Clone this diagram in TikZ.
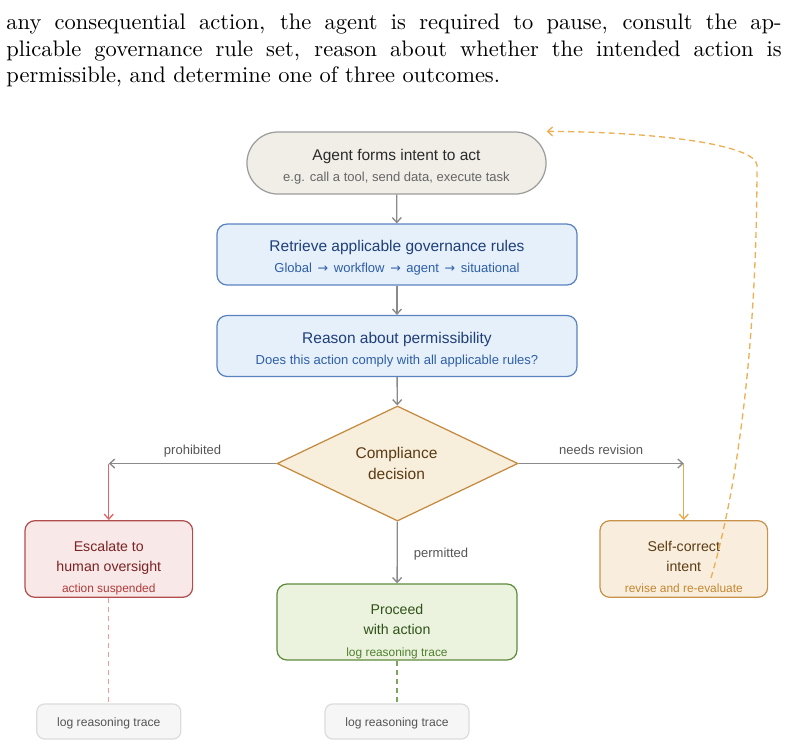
\documentclass[tikz,border=0pt]{standalone}
\usepackage{fontspec}
\usetikzlibrary{shapes.geometric,arrows.meta}
\newfontfamily\diafont{Liberation Sans}
\newfontfamily\arrowfont{DejaVu Sans}
\definecolor{flowgrey}{HTML}{8A8A8A}
\definecolor{labelgrey}{HTML}{555555}
\definecolor{startfill}{HTML}{F1EEE8}
\definecolor{startline}{HTML}{9C9C9C}
\definecolor{startink}{HTML}{2B2B2B}
\definecolor{startsub}{HTML}{666666}
\definecolor{bluefill}{HTML}{E6F0FA}
\definecolor{blueline}{HTML}{5A82C0}
\definecolor{blueink}{HTML}{1F3F7A}
\definecolor{bluesub}{HTML}{2D5EA8}
\definecolor{decfill}{HTML}{F8EEDC}
\definecolor{decline}{HTML}{C48A3F}
\definecolor{decink}{HTML}{5B3B12}
\definecolor{escfill}{HTML}{F8E8E8}
\definecolor{escline}{HTML}{B34D4D}
\definecolor{escink}{HTML}{7B2222}
\definecolor{escsub}{HTML}{B03A3A}
\definecolor{escarrow}{HTML}{E06666}
\definecolor{escdash}{HTML}{EC9A9A}
\definecolor{scfill}{HTML}{F9EEDD}
\definecolor{scline}{HTML}{C8924A}
\definecolor{scsub}{HTML}{C4862F}
\definecolor{scarrow}{HTML}{E8A84C}
\definecolor{scdash}{HTML}{EEB055}
\definecolor{profill}{HTML}{EBF3DF}
\definecolor{proline}{HTML}{5E8B3B}
\definecolor{proink}{HTML}{2F5218}
\definecolor{prosub}{HTML}{4F7F2C}
\definecolor{prodash}{HTML}{7EA65A}
\definecolor{logfill}{HTML}{F6F6F6}
\definecolor{logline}{HTML}{DCDCDC}
\definecolor{logink}{HTML}{555555}
\newcommand{\rto}{\hspace{0.9pt}{\arrowfont\fontsize{5.6}{7}\selectfont\raisebox{0.1pt}{→}}\hspace{0.9pt}}
\begin{document}
\begin{tikzpicture}[x=0.445pt,y=-0.445pt,
  box/.style={draw,line width=0.55pt,inner sep=0pt},
  bigtitle/.style={font=\diafont\fontsize{6.9}{8}\selectfont,anchor=base,inner sep=0pt},
  boxtitle/.style={font=\diafont\fontsize{6.3}{7.5}\selectfont,anchor=base,inner sep=0pt},
  subline/.style={font=\diafont\fontsize{5.8}{7}\selectfont,anchor=base,inner sep=0pt},
  footline/.style={font=\diafont\fontsize{5.3}{6.5}\selectfont,anchor=base,inner sep=0pt},
  elabel/.style={font=\diafont\fontsize{5.8}{7}\selectfont,text=labelgrey,inner sep=0pt},
  flow/.style={draw=flowgrey,line width=0.6pt,-{Straight Barb[length=2.2pt,width=4pt]}},
  dashline/.style={line width=0.6pt,dash pattern=on 2.2pt off 1.8pt}]
\useasboundingbox (0,0) rectangle (788,746);

%Paragraph
\node[anchor=north west,inner sep=0pt,text width=345pt,align=justify] (para) at (6,13)
  {any consequential action, the agent is required to pause, consult the ap-\linebreak
   plicable governance rule set, reason about whether the intended action is\linebreak
   permissible, and determine one of three outcomes.};

%Intent
\node[box,draw=startline,fill=startfill,rounded corners=13.8pt,minimum width=133.1pt,minimum height=27.6pt] (start) at (396.5,163) {};
\node[bigtitle,text=startink] (start-t) at (396.5,160) {Agent forms intent to act};
\node[subline,text=startsub] (start-s) at (396.5,181) {e.g. call a tool, send data, execute task};

%Retrieve rules
\node[box,draw=blueline,fill=bluefill,rounded corners=4.4pt,minimum width=160.2pt,minimum height=27.1pt] (retrieve) at (397,254.5) {};
\node[bigtitle,text=blueink] (retrieve-t) at (397,251.7) {Retrieve applicable governance rules};
\node[subline,text=bluesub] (retrieve-s) at (397,272.7) {Global \rto{} workflow \rto{} agent \rto{} situational};

%Reason
\node[box,draw=blueline,fill=bluefill,rounded corners=4.4pt,minimum width=160.2pt,minimum height=27.1pt] (reason) at (397,346) {};
\node[bigtitle,text=blueink] (reason-t) at (397,343.3) {Reason about permissibility};
\node[subline,text=bluesub] (reason-s) at (397,364.3) {Does this action comply with all applicable rules?};

%Decision
\node[box,diamond,draw=decline,fill=decfill,minimum width=107.2pt,minimum height=51.2pt] (decision) at (397.5,463.5) {};
\node[bigtitle,text=decink] (decision-t1) at (396.5,458.3) {Compliance};
\node[bigtitle,text=decink] (decision-t2) at (396.5,479) {decision};

%Escalate
\node[box,draw=escline,fill=escfill,rounded corners=4.4pt,minimum width=74.6pt,minimum height=34.1pt] (escalate) at (108.8,559) {};
\node[boxtitle,text=escink] (escalate-t1) at (108.8,551) {Escalate to};
\node[boxtitle,text=escink] (escalate-t2) at (108.8,571) {human oversight};
\node[footline,text=escsub] (escalate-s) at (108.8,592.7) {action suspended};

%Proceed
\node[box,draw=proline,fill=profill,rounded corners=4.4pt,minimum width=106.8pt,minimum height=33.8pt] (proceed) at (397,622) {};
\node[boxtitle,text=proink] (proceed-t1) at (397,614.3) {Proceed};
\node[boxtitle,text=proink] (proceed-t2) at (397,634.3) {with action};
\node[footline,text=prosub] (proceed-s) at (397,656) {log reasoning trace};

%Self-correct
\node[box,draw=scline,fill=scfill,rounded corners=4.4pt,minimum width=74.6pt,minimum height=34.1pt] (selfc) at (683.8,559) {};
\node[boxtitle,text=decink] (selfc-t1) at (683.8,551) {Self-correct};
\node[boxtitle,text=decink] (selfc-t2) at (683.8,571) {intent};
\node[footline,text=scsub] (selfc-s) at (683.8,592.7) {revise and re-evaluate};

%Logs
\node[box,draw=logline,fill=logfill,rounded corners=3.5pt,minimum width=64.1pt,minimum height=15.6pt] (logL) at (108.8,721.5) {};
\node[footline,font=\diafont\fontsize{5.4}{6.5}\selectfont,text=logink] (logL-t) at (108.8,726) {log reasoning trace};
\node[box,draw=logline,fill=logfill,rounded corners=3.5pt,minimum width=64.1pt,minimum height=15.6pt] (logC) at (397,721.5) {};
\node[footline,font=\diafont\fontsize{5.4}{6.5}\selectfont,text=logink] (logC-t) at (397,726) {log reasoning trace};

%Main flow
\draw[flow] (start) -- (retrieve);
\draw[flow] (retrieve) -- (reason);
\draw[flow] (reason) -- (decision);

%Branches
\coordinate (esc-turn) at (108.8,463.5);
\coordinate (sc-turn) at (683.8,463.5);
\draw[flow] (decision.west) -- node[elabel,anchor=base,yshift=4pt]{prohibited} (esc-turn);
\draw[flow,draw=escarrow] (esc-turn) -- (escalate);
\draw[flow] (decision.east) -- node[elabel,anchor=base,yshift=4pt]{needs revision} (sc-turn);
\draw[flow,draw=scarrow] (sc-turn) -- (selfc);
\draw[flow] (decision) -- node[elabel,anchor=base west,xshift=7.1pt,yshift=-2.2pt]{permitted} (proceed);

%Trace links
\draw[dashline,draw=escdash] (escalate) -- (logL);
\draw[dashline,draw=prodash] (proceed) -- (logC);

%Loop back
\coordinate (sc-loop) at (711,578);
\draw[dashline,draw=scdash,dash pattern=on 2.7pt off 1.8pt,-{Straight Barb[length=2.2pt,width=4pt]}]
  (sc-loop) .. controls (740,480) and (757,330) .. (757,165)
  .. controls (755,145) and (660,132) .. (start.north east);
\end{tikzpicture}
\end{document}
